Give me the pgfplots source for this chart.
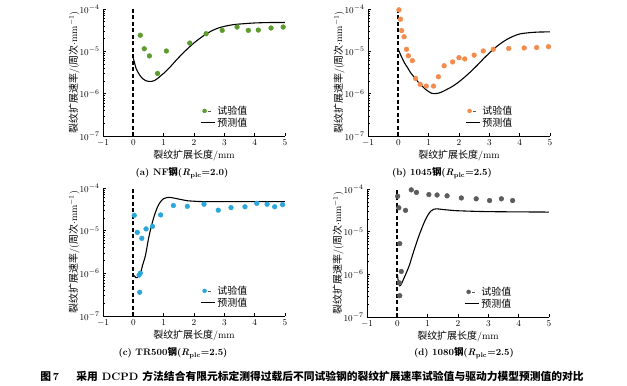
\documentclass[border=0pt]{standalone}
\usepackage{pgfplots}
\pgfplotsset{compat=1.18}
\usepackage{fontspec}
\newfontfamily\cjk{Noto Sans CJK SC}
\definecolor{cA}{HTML}{5E9B2E}
\definecolor{cB}{HTML}{F28B4C}
\definecolor{cC}{HTML}{2DA6DC}
\definecolor{cD}{HTML}{5C5C5C}
\pgfplotsset{
  myPanel/.style={
    scale only axis, width=182bp, height=127bp,
    axis lines*=left, anchor=south west,
    xmin=-1, xmax=5, ymin=1e-7, ymax=1e-4,
    xtick={-1,0,1,2,3,4,5}, ytick={1e-7,1e-6,1e-5,1e-4},
    every tick label/.append style={font=\fontsize{9.5}{11}\selectfont},
    major tick length=3bp, minor tick length=1.5bp,
    tick align=inside, tick style={black, line width=0.5pt},
    axis line style={line width=0.6pt},
    xlabel={{\cjk 裂纹扩展长度}/mm},
    ylabel={{\cjk 裂纹扩展速率}/({\cjk 周次}$\cdot$mm$^{-1}$)},
    label style={font=\fontsize{10}{11}\selectfont},
    xlabel style={yshift=3bp},
    ylabel style={yshift=-7bp},
    legend style={draw=none, fill=none, at={(0.81,0.04)}, anchor=south east,
      font=\fontsize{10}{11}\selectfont\cjk, row sep=-2pt, inner sep=1pt},
    legend cell align=left,
  },
  myDots/.style={only marks, mark=*, mark size=2.4pt, color=#1,
    legend image code/.code={%
      \draw[mark=*, mark size=2pt, only marks] plot coordinates {(0.14cm,0cm)};
      \draw[black!65, line width=0.6pt] (0.26cm,0cm)--(0.38cm,0cm);}},
  myCurve/.style={black, line width=1.1pt, smooth, tension=0.5, mark=none,
    legend image code/.code={\draw[mark=none] (0cm,0cm)--(0.5cm,0cm);}},
  myVdash/.style={black, line width=1.8pt, dash pattern=on 4pt off 2.5pt, forget plot},
}
\begin{document}
\begin{tikzpicture}
\path[use as bounding box] (0,0) rectangle (627bp,386bp);

% (a)
\begin{axis}[ymode=log, myPanel, at={(103bp,250bp)}]
\addplot[myDots=cA] coordinates {(0.23,2.40e-5) (0.36,1.15e-5) (0.53,7.8e-6) (0.80,3.0e-6) (1.09,1.02e-5) (1.86,1.57e-5) (2.40,2.61e-5) (2.93,3.13e-5) (3.42,3.75e-5) (3.79,3.13e-5) (4.12,3.18e-5) (4.54,3.55e-5) (4.94,3.75e-5)};
\addlegendentry{试验值}
\addplot[myCurve] coordinates {(0,6.92e-6) (0.05,5.01e-6) (0.1,3.80e-6) (0.2,2.82e-6) (0.3,2.29e-6) (0.4,2.04e-6) (0.5,1.95e-6) (0.6,1.95e-6) (0.7,2.04e-6) (0.8,2.29e-6) (0.9,2.63e-6) (1.0,3.02e-6) (1.2,4.17e-6) (1.4,6.03e-6) (1.6,8.51e-6) (1.8,1.175e-5) (2.0,1.58e-5) (2.2,2.04e-5) (2.4,2.57e-5) (2.6,3.09e-5) (2.8,3.55e-5) (3.0,3.89e-5) (3.3,4.27e-5) (3.6,4.47e-5) (4.0,4.68e-5) (4.5,4.79e-5) (5.0,4.79e-5)};
\addlegendentry{预测值}
\addplot[myVdash] coordinates {(0,1e-7) (0,1e-4)};
\end{axis}

% (b)
\begin{axis}[ymode=log, myPanel, at={(368bp,250bp)}]
\addplot[myDots=cB] coordinates {(0.02,9.55e-5) (0.07,5.75e-5) (0.11,3.09e-5) (0.19,2.21e-5) (0.27,1.12e-5) (0.33,7.85e-6) (0.46,6.03e-6) (0.57,2.29e-6) (0.72,1.66e-6) (0.92,1.51e-6) (1.16,1.51e-6) (1.32,2.51e-6) (1.51,4.57e-6) (1.79,5.62e-6) (2.00,7.08e-6) (2.19,6.61e-6) (2.50,8.13e-6) (2.80,1.02e-5) (3.13,1.12e-5) (3.64,1.17e-5) (4.15,1.20e-5) (4.56,1.23e-5) (4.95,1.29e-5)};
\addlegendentry{试验值}
\addplot[myCurve] coordinates {(0,1.10e-5) (0.1,7.59e-6) (0.2,5.37e-6) (0.3,4.17e-6) (0.4,3.16e-6) (0.5,2.57e-6) (0.6,2.09e-6) (0.7,1.74e-6) (0.8,1.48e-6) (0.9,1.26e-6) (1.0,1.12e-6) (1.1,1.02e-6) (1.2,1.00e-6) (1.3,1.02e-6) (1.4,1.07e-6) (1.6,1.26e-6) (1.8,1.51e-6) (2.0,1.91e-6) (2.2,2.51e-6) (2.4,3.39e-6) (2.6,4.68e-6) (2.8,6.61e-6) (3.0,9.12e-6) (3.2,1.23e-5) (3.4,1.58e-5) (3.6,1.95e-5) (3.8,2.29e-5) (4.0,2.57e-5) (4.3,2.75e-5) (4.6,2.85e-5) (5.0,2.88e-5)};
\addlegendentry{预测值}
\addplot[myVdash] coordinates {(0,1e-7) (0,1e-4)};
\end{axis}

% (c)
\begin{axis}[ymode=log, myPanel, height=128bp, at={(103bp,70bp)}]
\addplot[myDots=cC] coordinates {(0.03,2.29e-5) (0.13,9.12e-6) (0.28,6.61e-6) (0.42,1.10e-5) (0.63,1.26e-5) (0.90,2.34e-5) (0.23,1.01e-6) (0.19,9.1e-7) (0.21,3.6e-7) (1.32,3.89e-5) (1.78,3.72e-5) (2.33,4.17e-5) (2.80,3.02e-5) (3.22,3.47e-5) (3.68,3.63e-5) (4.07,4.37e-5) (4.41,4.17e-5) (4.66,3.63e-5) (4.92,4.07e-5)};
\addlegendentry{试验值}
\addplot[myCurve] coordinates {(0.03,8.91e-7) (0.08,7.94e-7) (0.12,7.94e-7) (0.18,8.7e-7) (0.25,1.07e-6) (0.3,1.51e-6) (0.4,2.63e-6) (0.5,6.46e-6) (0.6,1.32e-5) (0.7,2.34e-5) (0.8,3.63e-5) (0.9,4.79e-5) (1.0,5.62e-5) (1.1,5.96e-5) (1.2,6.03e-5) (1.3,5.89e-5) (1.5,5.50e-5) (1.8,5.01e-5) (2.0,4.90e-5) (2.5,4.79e-5) (5.0,4.79e-5)};
\addlegendentry{预测值}
\addplot[myVdash] coordinates {(0,1e-7) (0,1e-4)};
\end{axis}

% (d)
\begin{axis}[ymode=log, myPanel, height=128bp, at={(367bp,69bp)}]
\addplot[myDots=cD] coordinates {(0.01,6.76e-5) (0.05,3.63e-5) (0.27,3.16e-5) (0.46,9.55e-5) (0.63,8.32e-5) (1.04,7.41e-5) (1.31,7.24e-5) (1.64,6.92e-5) (2.11,6.17e-5) (2.60,5.89e-5) (3.04,5.37e-5) (3.43,5.89e-5) (3.80,5.37e-5) (0.08,5.25e-6) (0.13,1.17e-6) (0.07,6.3e-7) (0.08,3.16e-7)};
\addlegendentry{试验值}
\addplot[myCurve] coordinates {(0.0,1.0e-6) (0.04,6.31e-7) (0.08,5.37e-7) (0.12,5.62e-7) (0.2,7.59e-7) (0.3,1.10e-6) (0.4,1.66e-6) (0.5,2.82e-6) (0.6,4.68e-6) (0.7,7.59e-6) (0.8,1.17e-5) (0.9,1.74e-5) (1.0,2.40e-5) (1.1,3.02e-5) (1.2,3.35e-5) (1.3,3.43e-5) (1.5,3.31e-5) (1.8,3.16e-5) (2.0,3.09e-5) (3.0,2.95e-5) (5.0,2.88e-5)};
\addlegendentry{预测值}
\addplot[myVdash] coordinates {(0,1e-7) (0,1e-4)};
\end{axis}

\begin{scope}[font=\fontsize{9.5}{11}\selectfont\bfseries]
\node at (182bp,213bp) {(a) NF{\cjk 钢}({\itshape R}\textsubscript{plc}=2.0)};
\node at (442bp,213bp) {(b) 1045{\cjk 钢}({\itshape R}\textsubscript{plc}=2.5)};
\node at (173bp,33bp) {(c) TR500{\cjk 钢}({\itshape R}\textsubscript{plc}=2.5)};
\node at (464bp,33bp) {(d) 1080{\cjk 钢}({\itshape R}\textsubscript{plc}=2.5)};
\end{scope}
\node[font=\fontsize{10.8}{12}\selectfont\bfseries] at (312bp,10bp) {{\cjk 图}\,7\hspace{1.6em}{\cjk 采用} DCPD {\cjk 方法结合有限元标定测得过载后不同试验钢的裂纹扩展速率试验值与驱动力模型预测值的对比}};
\end{tikzpicture}
\end{document}
